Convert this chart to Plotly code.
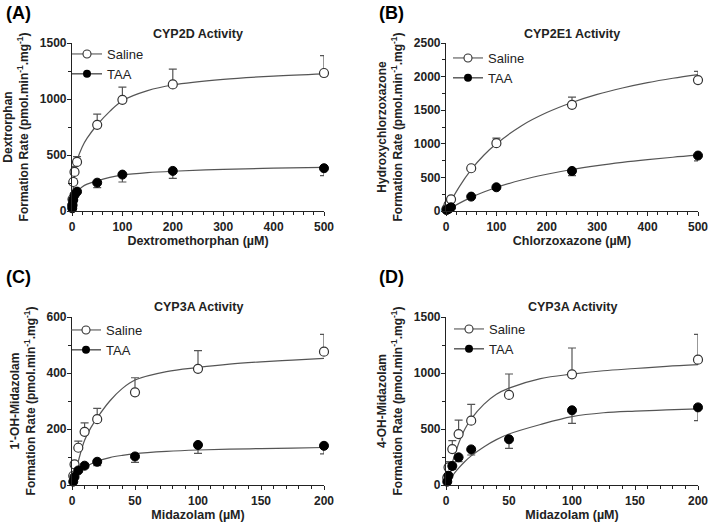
import plotly.graph_objects as go

W, H = 709, 522

# ---------------- data ----------------
# Panel A: CYP2D (dextromethorphan -> dextrorphan)
a_conc = [0.5, 1, 2.5, 5, 10, 50, 100, 200, 500]
a_saline = [50, 104, 259, 349, 438, 769, 993, 1130, 1232]
a_saline_sd = [20, 30, 30, 50, 48, 96, 113, 137, 155]
a_taa = [24, 54, 98, 143, 173, 253, 325, 358, 382]
a_taa_sd = [8, 10, 12, 12, 15, 44, 66, 66, 66]
a_fit_x = [0, 2, 5, 10, 20, 30, 50, 75, 100, 150, 200, 300, 400, 500]
a_fit_saline = [0, 170, 320, 450, 570, 650, 770, 890, 985, 1075, 1125, 1175, 1205, 1225]
a_fit_taa = [0, 80, 130, 175, 215, 240, 270, 300, 320, 342, 355, 372, 382, 390]

# Panel B: CYP2E1 (chlorzoxazone -> hydroxychlorzoxazone)
b_conc = [1, 5, 10, 50, 100, 250, 500]
b_saline = [30, 90, 174, 636, 1009, 1580, 1948]
b_saline_sd = [10, 15, 20, 20, 74, 115, 129]
b_taa = [15, 30, 55, 214, 353, 596, 825]
b_taa_sd = [4, 6, 8, 10, 15, 69, 80]
b_fit_x = [0, 10, 25, 50, 75, 100, 150, 200, 250, 300, 350, 400, 450, 500]
b_fit_saline = [0, 150, 345, 615, 830, 1000, 1270, 1465, 1615, 1735, 1830, 1910, 1975, 2030]
b_fit_taa = [0, 47, 110, 203, 282, 350, 461, 547, 618, 675, 723, 764, 800, 830]

# Panel C: CYP3A (midazolam -> 1'-OH-midazolam)
c_conc = [1, 2, 5, 10, 20, 50, 100, 200]
c_saline = [33, 74, 133, 190, 235, 331, 415, 476]
c_saline_sd = [5, 10, 24, 32, 39, 52, 65, 62]
c_taa = [12, 29, 52, 69, 83, 102, 143, 140]
c_taa_sd = [3, 5, 6, 8, 14, 21, 30, 29]
c_fit_x = [0, 2, 5, 10, 15, 20, 30, 40, 50, 75, 100, 125, 150, 175, 200]
c_fit_saline = [0, 30, 85, 160, 205, 240, 300, 345, 375, 405, 420, 432, 440, 446, 452]
c_fit_taa = [0, 15, 42, 62, 75, 85, 98, 106, 112, 120, 125, 128, 130, 132, 134]

# Panel D: CYP3A (midazolam -> 4-OH-midazolam)
d_conc = [1, 2, 5, 10, 20, 50, 100, 200]
d_saline = [65, 158, 321, 455, 574, 804, 988, 1119]
d_saline_sd = [20, 50, 75, 125, 146, 187, 235, 226]
d_taa = [30, 83, 170, 247, 318, 408, 667, 693]
d_taa_sd = [10, 20, 30, 39, 50, 81, 116, 118]
d_fit_x = [0, 2, 5, 10, 15, 20, 30, 40, 50, 75, 100, 125, 150, 175, 200]
d_fit_saline = [0, 60, 200, 370, 500, 590, 720, 810, 865, 950, 990, 1020, 1040, 1060, 1075]
d_fit_taa = [0, 25, 80, 150, 210, 260, 340, 405, 455, 540, 610, 645, 660, 670, 680]

series_names = ["Saline", "TAA"]
panel_letters = ["(A)", "(B)", "(C)", "(D)"]
panel_titles = ["CYP2D Activity", "CYP2E1 Activity", "CYP3A Activity", "CYP3A Activity"]
x_titles = ["Dextromethorphan (µM)", "Chlorzoxazone (µM)", "Midazolam (µM)", "Midazolam (µM)"]
unit = "Formation Rate (pmol.min<sup>-1</sup>.mg<sup>-1</sup>)"
y_titles = ["Dextrorphan<br>" + unit, "Hydroxychlorzoxazone<br>" + unit,
            "1'-OH-Midazolam<br>" + unit, "4-OH-Midazolam<br>" + unit]

panels = [
    (a_conc, a_saline, a_saline_sd, a_taa, a_taa_sd, a_fit_x, a_fit_saline, a_fit_taa),
    (b_conc, b_saline, b_saline_sd, b_taa, b_taa_sd, b_fit_x, b_fit_saline, b_fit_taa),
    (c_conc, c_saline, c_saline_sd, c_taa, c_taa_sd, c_fit_x, c_fit_saline, c_fit_taa),
    (d_conc, d_saline, d_saline_sd, d_taa, d_taa_sd, d_fit_x, d_fit_saline, d_fit_taa),
]

# ---------------- layout geometry (pixels) ----------------
def X(p):
    return p / W

def Y(p):
    return 1 - p / H

# (x0, x1, ytop, ybottom)
boxes = [(72, 324, 43, 211), (446, 698, 43, 211), (72, 324, 317, 485), (446, 698, 317, 485)]
xranges = [[0, 500], [0, 500], [0, 200], [0, 200]]
yranges = [[0, 1500], [0, 2500], [0, 600], [0, 1500]]
xdt = [(100, 20), (100, 20), (50, 10), (50, 10)]
ydt = [(500, 250), (500, 250), (200, 100), (500, 250)]
letter_pos = [(4, 13), (377, 13), (4, 277), (377, 277)]
title_y = [34, 34, 307, 307]
legend_pos = [(67, 39), (448, 43), (66, 315), (449, 314)]  # left, top of legend box

FONT = "Liberation Sans, Arial, sans-serif"
AX = "#222222"
LINE = "#555555"

fig = go.Figure()

for i, (conc, sal, sal_sd, taa, taa_sd, fx, fsal, ftaa) in enumerate(panels):
    n = "" if i == 0 else str(i + 1)
    xa, ya = "x" + n, "y" + n
    lg = "legend" + n
    zeros = [0] * len(conc)

    # fitted curves
    fig.add_trace(go.Scatter(x=fx, y=fsal, mode="lines", line=dict(color=LINE, width=1.2, shape="spline"),
                             xaxis=xa, yaxis=ya, showlegend=False, hoverinfo="skip"))
    fig.add_trace(go.Scatter(x=fx, y=ftaa, mode="lines", line=dict(color=LINE, width=1.2, shape="spline"),
                             xaxis=xa, yaxis=ya, showlegend=False, hoverinfo="skip"))
    # data points
    fig.add_trace(go.Scatter(
        x=conc, y=sal, mode="markers", name=series_names[0],
        marker=dict(symbol="circle", size=9, color="white", line=dict(color="#333333", width=1.2)),
        error_y=dict(type="data", symmetric=False, array=sal_sd, arrayminus=zeros,
                     color=LINE, thickness=1.2, width=4),
        xaxis=xa, yaxis=ya, cliponaxis=False, showlegend=False))
    fig.add_trace(go.Scatter(
        x=conc, y=taa, mode="markers", name=series_names[1],
        marker=dict(symbol="circle", size=9, color="black", line=dict(color="black", width=1)),
        error_y=dict(type="data", symmetric=False, array=zeros, arrayminus=taa_sd,
                     color=LINE, thickness=1.2, width=4),
        xaxis=xa, yaxis=ya, cliponaxis=False, showlegend=False))
    # legend entries (line + marker, as in the reference legend)
    fig.add_trace(go.Scatter(
        x=[None], y=[None], mode="lines+markers", name=series_names[0], legend=lg,
        line=dict(color=LINE, width=1.1),
        marker=dict(symbol="circle", size=8, color="white", line=dict(color="#333333", width=1.1)),
        xaxis=xa, yaxis=ya))
    fig.add_trace(go.Scatter(
        x=[None], y=[None], mode="lines+markers", name=series_names[1], legend=lg,
        line=dict(color="#222222", width=1.1),
        marker=dict(symbol="circle", size=8, color="black"),
        xaxis=xa, yaxis=ya))

layout = dict(
    width=W, height=H, margin=dict(l=0, r=0, t=0, b=0, autoexpand=False),
    paper_bgcolor="white", plot_bgcolor="white",
    font=dict(family=FONT, color=AX, size=12),
    annotations=[],
)

for i in range(4):
    n = "" if i == 0 else str(i + 1)
    x0, x1, yt, yb = boxes[i]
    common = dict(showline=True, linecolor=AX, linewidth=1.2, ticks="outside", ticklen=4,
                  tickwidth=1.2, tickcolor=AX, showgrid=False, zeroline=False, automargin=False,
                  tickfont=dict(family=FONT, size=12, weight="bold", color=AX))
    layout["xaxis" + n] = dict(
        common, domain=[X(x0), X(x1)], range=xranges[i], anchor="y" + n,
        tick0=0, dtick=xdt[i][0],
        minor=dict(ticks="outside", ticklen=3, tickwidth=1.1, tickcolor=AX, dtick=xdt[i][1], tick0=0),
        title=dict(text=x_titles[i], font=dict(family=FONT, size=12.5, weight="bold"), standoff=3))
    layout["yaxis" + n] = dict(
        common, domain=[Y(yb), Y(yt)], range=yranges[i], anchor="x" + n,
        tick0=0, dtick=ydt[i][0], ticklabelstandoff=-2,
        minor=dict(ticks="outside", ticklen=3, tickwidth=1.1, tickcolor=AX, dtick=ydt[i][1], tick0=0),
        title=dict(text=y_titles[i], font=dict(family=FONT, size=12, weight="bold"), standoff=8))
    lx, ly = legend_pos[i]
    layout["legend" + n] = dict(
        x=X(lx), y=Y(ly), xanchor="left", yanchor="top", bgcolor="rgba(0,0,0,0)",
        borderwidth=0, font=dict(family=FONT, size=13, color=AX), tracegroupgap=0,
        itemsizing="trace")
    layout["annotations"].append(dict(
        text=panel_titles[i], x=X((x0 + x1) / 2), y=Y(title_y[i]), xref="paper", yref="paper",
        showarrow=False, xanchor="center", yanchor="middle",
        font=dict(family=FONT, size=12.5, weight="bold", color=AX)))
    px, py = letter_pos[i]
    layout["annotations"].append(dict(
        text=panel_letters[i], x=X(px), y=Y(py), xref="paper", yref="paper",
        showarrow=False, xanchor="left", yanchor="middle",
        font=dict(family=FONT, size=18, weight="bold", color="black")))

fig.update_layout(**layout)
fig.write_html(
    "out.html",
    config={"displayModeBar": False, "responsive": False},
    post_script=("document.documentElement.style.margin='0';"
                 "document.documentElement.style.overflow='hidden';"
                 "document.body.style.margin='0';"
                 "document.body.style.overflow='hidden';"),
)
